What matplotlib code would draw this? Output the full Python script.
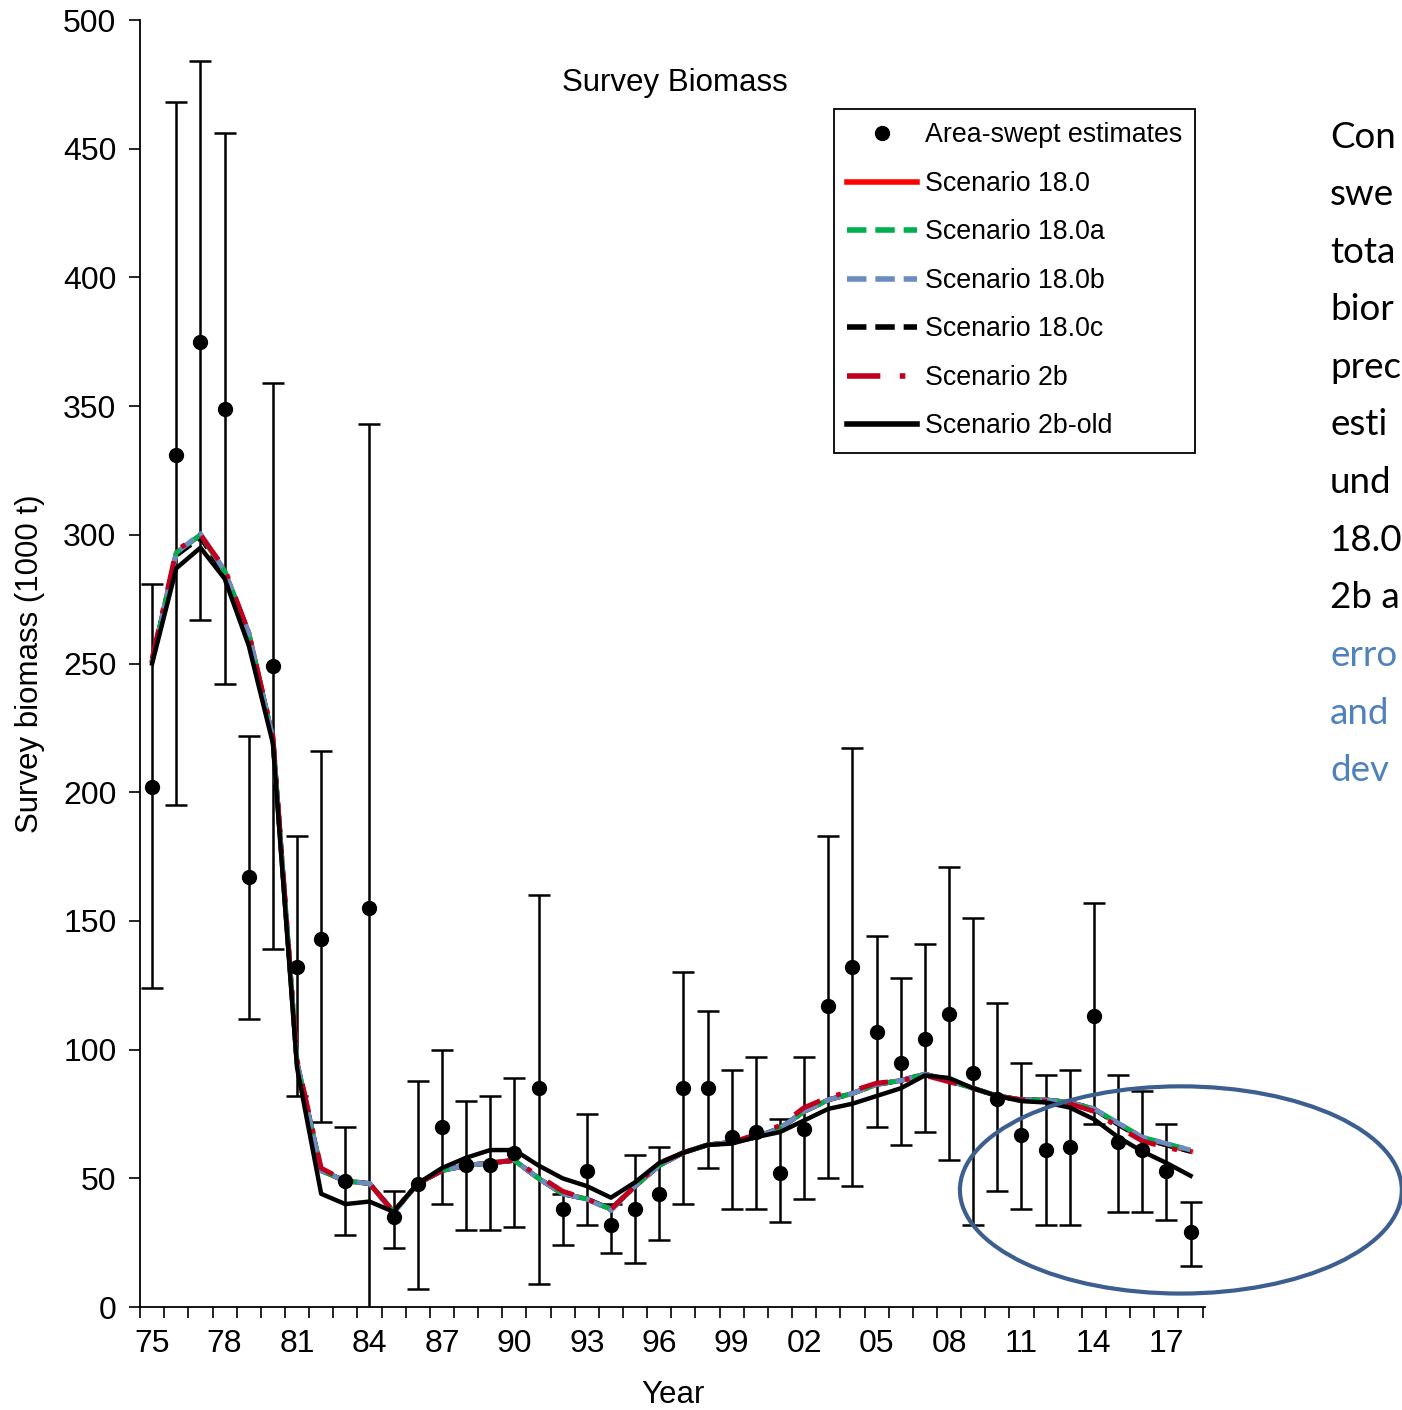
import numpy as np
import matplotlib.pyplot as plt
from matplotlib.patches import Ellipse

plt.rcParams['font.family'] = ['Liberation Sans', 'DejaVu Sans']

# survey years
years = np.arange(1975, 2019)

# area-swept estimates with error bar ends (1000 t)
obs = [202, 331, 375, 349, 167, 249, 132, 143, 49, 155,
       35, 48, 70, 55, 55, 60, 85, 38, 53, 32,
       38, 44, 85, 85, 66, 68, 52, 69, 117, 132,
       107, 95, 104, 114, 91, 81, 67, 61, 62, 113,
       64, 61, 53, 29]
obs_hi = [281, 468, 484, 456, 222, 359, 183, 216, 70, 343,
          45, 88, 100, 80, 82, 89, 160, 44, 75, 40,
          59, 62, 130, 115, 92, 97, 73, 97, 183, 217,
          144, 128, 141, 171, 151, 118, 95, 90, 92, 157,
          90, 84, 71, 41]
obs_lo = [124, 195, 267, 242, 112, 139, 82, 72, 28, -35,
          23, 7, 40, 30, 30, 31, 9, 24, 32, 21,
          17, 26, 40, 54, 38, 38, 33, 42, 50, 47,
          70, 63, 68, 57, 32, 45, 38, 32, 32, 71,
          37, 37, 34, 16]

# model predictions
s18 = [251, 293, 300, 286, 262, 221, 95, 53, 49, 48,
       37, 48, 53, 55, 56, 57, 50, 44, 42, 38,
       47, 55, 60, 63, 64, 66, 69.5, 76, 80.5, 83,
       86.5, 88, 90.5, 88, 85, 82, 80.5, 80.5, 79.5, 77,
       71, 65.5, 63, 60.5]
s18a = [251, 293, 300, 286, 262, 221, 95, 53, 49, 48,
        37, 48, 53, 55, 56, 57, 50, 44, 42, 38,
        47, 55, 60, 63, 64, 66, 69.5, 76, 80.5, 83,
        86.5, 88, 90.5, 88, 85, 82, 80.5, 80.5, 79.5, 77,
        71.5, 66, 63.5, 61]
s18b = [251, 293, 300.5, 286, 262, 221, 95, 53, 49, 48,
        36.5, 48, 53, 55, 56, 57, 50, 44, 42, 37.5,
        47, 55, 60, 63, 64, 66, 69.5, 76, 80.5, 83,
        86.5, 88, 90.5, 88, 85, 82, 80.5, 80.5, 79.5, 77,
        71.5, 66, 63.5, 61]
s18c = [251, 292, 299, 285, 261, 221, 95, 53, 49, 48,
        37, 48, 53, 55, 56, 57, 50, 44, 42, 38,
        47, 55, 60, 63, 64, 66, 69.5, 76, 80.5, 83,
        86.5, 88, 90.5, 88, 85, 82, 80.5, 80.5, 79.5, 77,
        71, 65.5, 63, 60.5]
s2b = [252, 294, 300, 287, 262, 222, 96, 54, 49, 48,
       37, 48, 53, 55, 56, 57, 51, 45, 42, 38,
       47, 56, 60, 63, 64, 67, 70.5, 77.5, 81.5, 84,
       87, 88, 90, 87.5, 85, 82, 80.5, 80, 79, 76,
       70, 64.5, 62, 60]
s2b_old = [250, 287, 295, 283, 257, 219, 93, 44, 40, 41,
           37, 48, 54, 58, 61, 61, 55, 50, 47, 42.5,
           48.5, 56, 60, 63, 63.5, 66, 68, 72.5, 77, 79,
           82, 85, 90, 89, 85, 82, 80, 79.5, 77.5, 73,
           66, 60.5, 56, 51]

label_years = np.arange(1975, 2018, 3)
tick_labels = ['%02d' % (y % 100) for y in label_years]

# side note, as much as the slide shows of it
note = ['Con', 'swe', 'tota', 'bior', 'prec', 'esti', 'und',
        '18.0', '2b a', 'erro', 'and', 'dev']
note_colors = ['black'] * 9 + ['#4F81BD'] * 3

fig = plt.figure(figsize=(14.02, 14.10), dpi=100)
ax = fig.add_axes([0.0999, 0.0730, 0.7596, 0.9128])

# error bars
obs = np.array(obs)
err = [obs - np.array(obs_lo), np.array(obs_hi) - obs]
ax.errorbar(years, obs, yerr=err, fmt='none', ecolor='black',
            elinewidth=1.8, capsize=8, capthick=1.8, zorder=2)

# model lines
dash = (3.5, 1.6)
ax.plot(years, s18, color='#FF0000', lw=3.5, label='Scenario 18.0', zorder=3)
ax.plot(years, s18a, color='#00B050', lw=3.5, linestyle=(0, dash),
        label='Scenario 18.0a', zorder=3.3)
ax.plot(years, s18b, color='#6A8CBF', lw=3.5, linestyle=(1.7, dash),
        label='Scenario 18.0b', zorder=3.4)
ax.plot(years, s18c, color='black', lw=3.5, linestyle=(3.0, dash),
        label='Scenario 18.0c', zorder=3.2)
ax.plot(years, s2b, color='#C0001E', lw=3.5, linestyle=(0, (6, 3.5, 1, 4)),
        label='Scenario 2b', zorder=3.5)
ax.plot(years, s2b_old, color='black', lw=3.2, label='Scenario 2b-old', zorder=4)

# points
ax.plot(years, obs, 'o', color='black', ms=10, label='Area-swept estimates', zorder=5)

ax.set_xlim(1974.5, 2018.6)
ax.set_ylim(0, 500)
ax.set_yticks(np.arange(0, 501, 50))
ax.set_xticks(label_years)
ax.set_xticklabels(tick_labels)
ax.set_xticks(np.arange(1974.5, 2018.6, 1), minor=True)
ax.tick_params(axis='x', which='major', length=0, pad=16, labelsize=23)
ax.tick_params(axis='x', which='minor', length=8, width=1.2, direction='out')
ax.tick_params(axis='y', length=8, width=1.2, direction='out', pad=9, labelsize=23)

for s in ['top', 'right']:
    ax.spines[s].set_visible(False)
for s in ['left', 'bottom']:
    ax.spines[s].set_linewidth(1.3)

ax.set_xlabel('Year', fontsize=22.5, labelpad=15)
ax.set_ylabel('Survey biomass (1000 t)', fontsize=22.5, labelpad=13)
ax.text(0.502, 0.951, 'Survey Biomass', transform=ax.transAxes,
        ha='center', va='center', fontsize=22.5)

# legend
h, l = ax.get_legend_handles_labels()
order = [6, 0, 1, 2, 3, 4, 5]
leg = ax.legend([h[i] for i in order], [l[i] for i in order],
                loc='upper left', bbox_to_anchor=(0.5949, 0.9227),
                bbox_transform=fig.transFigure, borderaxespad=0,
                fontsize=19.3, handlelength=2.6, handletextpad=0.28,
                labelspacing=0.84, borderpad=0.5, fancybox=False,
                framealpha=1, edgecolor='black')
leg.get_frame().set_linewidth(1.3)
for line in leg.get_lines()[1:]:
    line.set_linewidth(4)
for line in leg.get_lines()[2:5]:
    line.set_linestyle((0, dash))

# highlight of recent years
ell = Ellipse((2017.6, 45.5), 18.3, 80.5, fill=False, edgecolor='#3D5F8F',
              lw=3, clip_on=False, zorder=6)
ax.add_patch(ell)

for i, (t, c) in enumerate(zip(note, note_colors)):
    fig.text(1330 / 1402, 1 - (137 + i * 57.6) / 1410, t, color=c,
             fontsize=26.5, family=['Lato', 'DejaVu Sans'],
             ha='left', va='center')

fig.savefig('out.png', dpi=100)
